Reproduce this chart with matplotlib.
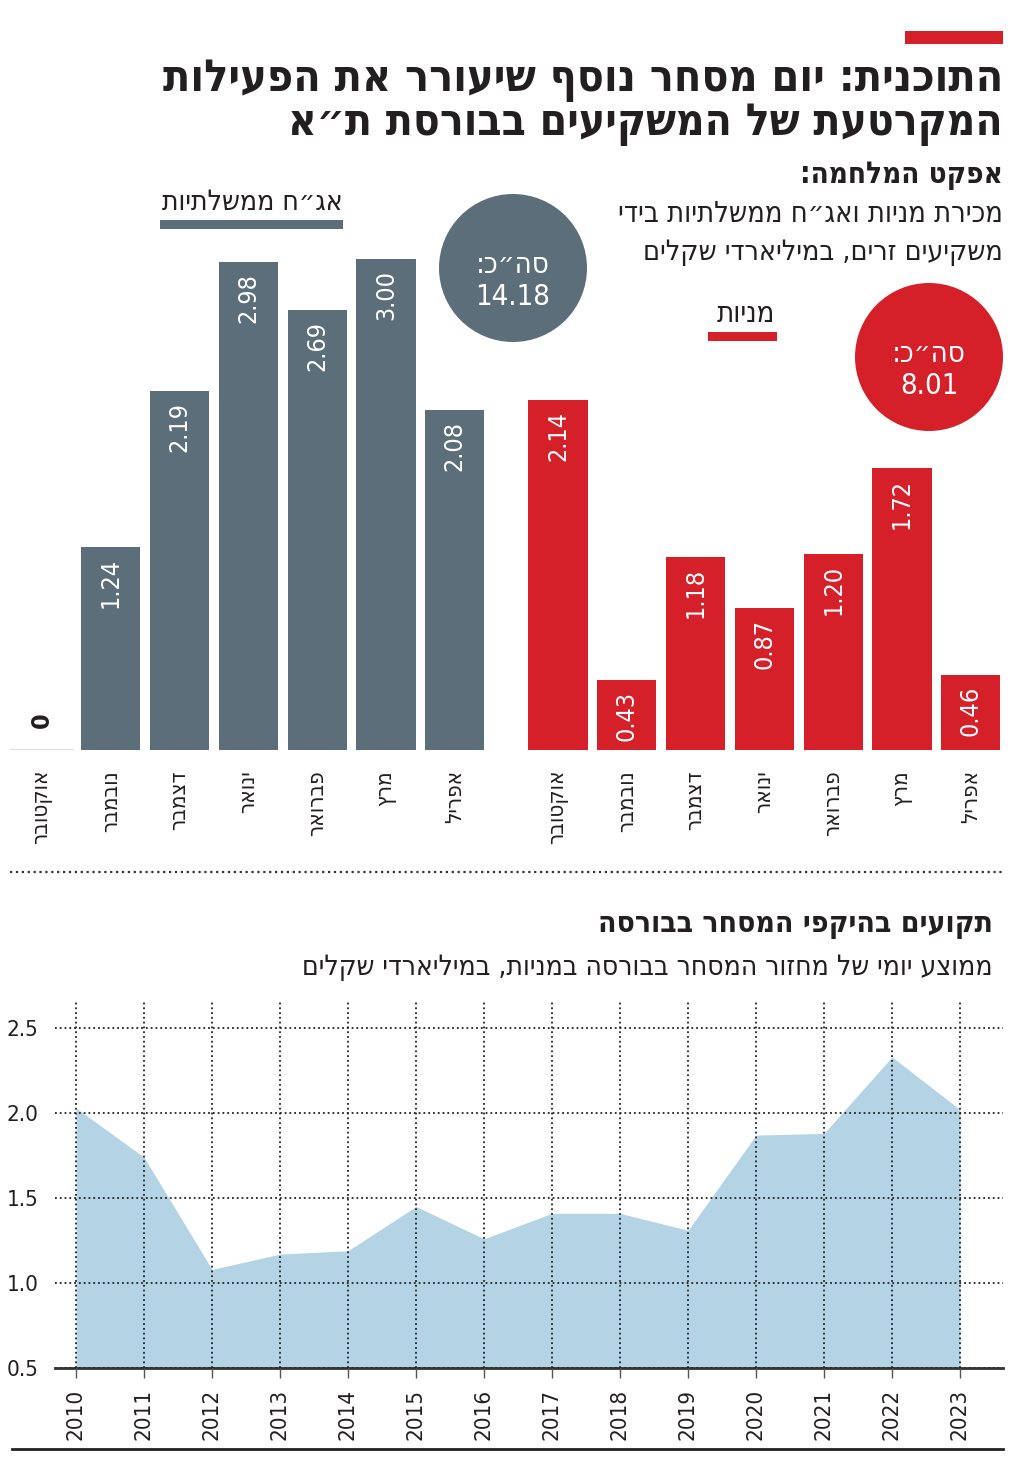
import re
import matplotlib
matplotlib.use('Agg')
import matplotlib.pyplot as plt
from matplotlib.patches import Circle, Rectangle

# data
months = ['אוקטובר', 'נובמבר', 'דצמבר', 'ינואר', 'פברואר', 'מרץ', 'אפריל']
bonds = [0, 1.24, 2.19, 2.98, 2.69, 3.00, 2.08]
stocks = [2.14, 0.43, 1.18, 0.87, 1.20, 1.72, 0.46]
total_bonds = 14.18
total_stocks = 8.01

years = list(range(2010, 2024))
turnover = [2.03, 1.74, 1.08, 1.17, 1.19, 1.45, 1.26, 1.41, 1.41, 1.31, 1.87, 1.88, 2.33, 2.02]

title = ['התוכנית: יום מסחר נוסף שיעורר את הפעילות', 'המקרטעת של המשקיעים בבורסת ת״א']
sub_head = 'אפקט המלחמה:'
sub_lines = ['מכירת מניות ואג״ח ממשלתיות בידי', 'משקיעים זרים, במיליארדי שקלים']
bonds_label = 'אג״ח ממשלתיות'
stocks_label = 'מניות'
total_label = 'סה״כ:'
title2 = 'תקועים בהיקפי המסחר בבורסה'
sub2 = 'ממוצע יומי של מחזור המסחר בבורסה במניות, במיליארדי שקלים'

GRAY = '#5b6e79'
RED = '#d5202a'
BLUE = '#b4d4e6'
INK = '#231f20'

plt.rcParams['font.family'] = ['DejaVu Sans']
plt.rcParams['font.stretch'] = 'condensed'


def rtl(s):
    # matplotlib has no bidi: put hebrew in visual order, keep numbers as they are
    parts = re.findall(r'[0-9A-Za-z.]+|.', s)
    return ''.join(reversed(parts))


W, H = 1024, 1459
fig = plt.figure(figsize=(W / 100, H / 100), dpi=100)

# overlay in pixel coords for titles and decorations
ov = fig.add_axes([0, 0, 1, 1])
ov.set_xlim(0, W)
ov.set_ylim(H, 0)
ov.axis('off')

renderer = fig.canvas.get_renderer()


def fit_text(s, xr, y, width, weight='normal', color=INK):
    t = ov.text(xr, y, rtl(s), ha='right', va='baseline', fontsize=20,
                fontweight=weight, color=color)
    bb = t.get_window_extent(renderer)
    t.set_fontsize(20 * width / bb.width)
    return t


ov.add_patch(Rectangle((905, 31), 98, 13, color=RED, lw=0))
fit_text(title[0], 1003, 91, 835, 'bold')
fit_text(title[1], 1003, 135, 712, 'bold')
fit_text(sub_head, 1003, 183, 203, 'bold')
fit_text(sub_lines[0], 1003, 222, 383)
fit_text(sub_lines[1], 1003, 260, 358)

# legends
fit_text(bonds_label, 343, 210, 180)
ov.add_patch(Rectangle((160, 220), 183, 9, color=GRAY, lw=0))
fit_text(stocks_label, 775, 322, 58)
ov.add_patch(Rectangle((708, 332), 69, 9, color=RED, lw=0))

# totals
for cx, cy, col, tot in [(513, 268, GRAY, total_bonds), (929, 357, RED, total_stocks)]:
    ov.add_patch(Circle((cx, cy), 74, color=col, lw=0))
    ov.text(cx, cy + 5, rtl(total_label), ha='center', va='baseline',
            fontsize=21, color='white')
    ov.text(cx, cy + 37, f'{tot:.2f}', ha='center', va='baseline',
            fontsize=21, color='white')

# separator and bottom rule
ov.plot([10, 1003], [872, 872], ls=':', lw=1.6, color='#333333')
ov.plot([12, 1003], [1449, 1449], lw=2, color='#222222')

fit_text(title2, 993, 932, 395, 'bold')
fit_text(sub2, 993, 975, 688)

# top bar chart
PX = 163.7  # px per unit
SP = 68.8   # px per slot
ax = fig.add_axes([0, (H - 750) / H, 1, 620 / H])
ax.set_ylim(0, 620 / PX)
ax.set_xlim(-42 / SP, (W - 42) / SP)
ax.axis('off')

gx = list(range(len(bonds)))
rx = [i + 7.5 for i in range(len(stocks))]
ax.bar(gx, bonds, width=0.86, color=GRAY, lw=0)
ax.bar(rx, stocks, width=0.86, color=RED, lw=0)
ax.plot([-0.45, 0.45], [0, 0], color='#dddddd', lw=1.5)

for xs, vals in [(gx, bonds), (rx, stocks)]:
    for x, v, m in zip(xs, vals, months):
        if v > 0:
            ax.text(x, v - 11 / PX, f'{v:.2f}', rotation=90, ha='center', va='top',
                    fontsize=18, color='white')
        else:
            ax.text(x, 22 / PX, '0', rotation=90, ha='center', va='bottom',
                    fontsize=18, color=INK, fontweight='bold')
        ax.text(x, -20 / PX, rtl(m), rotation=90, ha='center', va='top',
                fontsize=16, color=INK, clip_on=False)

# bottom area chart
ax2 = fig.add_axes([55 / W, (H - 1368) / H, (1003 - 55) / W, 368 / H])
ax2.fill_between(years, 0.5, turnover, color=BLUE, lw=0, zorder=1)
ax2.set_ylim(0.5, 0.5 + 368 / 170)
ax2.set_xlim(2010 - 21 / 68, 2023 + 43 / 68)
ax2.set_yticks([0.5, 1.0, 1.5, 2.0, 2.5])
ax2.set_xticks(years)
ax2.set_xticklabels([str(y) for y in years], rotation=90)
ax2.grid(True, ls=':', lw=1.3, color='#222222', zorder=2)
ax2.set_axisbelow(False)
for s in ['left', 'top', 'right']:
    ax2.spines[s].set_visible(False)
ax2.spines['bottom'].set_color('#333333')
ax2.spines['bottom'].set_linewidth(2)
ax2.tick_params(axis='y', length=0, pad=12, labelsize=16, labelcolor=INK)
ax2.tick_params(axis='x', length=7, width=1, color='#555555', pad=8,
                labelsize=16, labelcolor=INK)
ax2.patch.set_alpha(0)

fig.savefig('out.png', dpi=100)
